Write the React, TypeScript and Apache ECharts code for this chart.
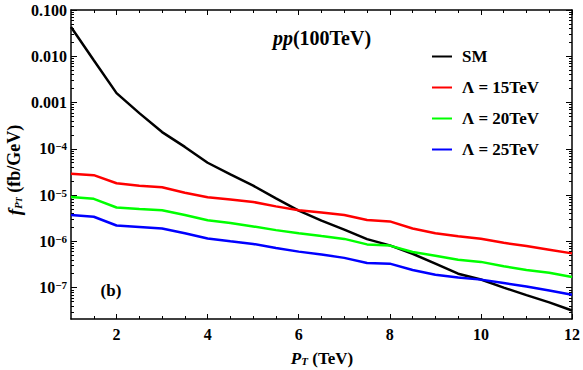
import React, { useEffect, useRef } from "react";
import * as echarts from "echarts";

const pT = [1, 1.5, 2, 2.5, 3, 3.5, 4, 4.5, 5, 5.5, 6, 6.5, 7, 7.5, 8, 8.5, 9, 9.5, 10, 10.5, 11, 11.5, 12];
const smValues = [0.043, 8.2e-3, 1.6e-3, 5.9e-4, 2.3e-4, 1.1e-4, 5.0e-5, 2.8e-5, 1.6e-5, 8.5e-6, 4.6e-6, 2.8e-6, 1.8e-6, 1.12e-6, 8.2e-7, 5.4e-7, 3.3e-7, 2.0e-7, 1.5e-7, 1.0e-7, 6.9e-8, 4.8e-8, 3.2e-8];
const lambda15 = [2.9e-5, 2.7e-5, 1.8e-5, 1.6e-5, 1.48e-5, 1.12e-5, 9.0e-6, 8.0e-6, 7.1e-6, 5.7e-6, 4.7e-6, 4.2e-6, 3.7e-6, 2.9e-6, 2.7e-6, 1.9e-6, 1.5e-6, 1.29e-6, 1.14e-6, 9.3e-7, 7.9e-7, 6.6e-7, 5.5e-7];
const lambda20 = [9.1e-6, 8.3e-6, 5.4e-6, 5.0e-6, 4.7e-6, 3.7e-6, 2.85e-6, 2.5e-6, 2.1e-6, 1.75e-6, 1.5e-6, 1.3e-6, 1.13e-6, 8.6e-7, 8.1e-7, 5.9e-7, 4.9e-7, 4.0e-7, 3.6e-7, 2.9e-7, 2.4e-7, 2.1e-7, 1.7e-7];
const lambda25 = [3.7e-6, 3.4e-6, 2.2e-6, 2.05e-6, 1.9e-6, 1.5e-6, 1.15e-6, 1.0e-6, 8.8e-7, 7.2e-7, 6.0e-7, 5.2e-7, 4.4e-7, 3.4e-7, 3.3e-7, 2.4e-7, 1.9e-7, 1.65e-7, 1.49e-7, 1.26e-7, 1.06e-7, 8.7e-8, 7.0e-8];

const seriesNames = ["SM", "Λ = 15TeV", "Λ = 20TeV", "Λ = 25TeV"];
const seriesColors = ["#000000", "#ff0000", "#00ff00", "#0000ff"];
const seriesValues = [smValues, lambda15, lambda20, lambda25];

const yMajorExponents = [-7, -6, -5, -4, -3, -2, -1];
const xMajorTicks = [2, 4, 6, 8, 10, 12];
const xMinorTicks = [1.5, 2.5, 3, 3.5, 4.5, 5, 5.5, 6.5, 7, 7.5, 8.5, 9, 9.5, 10.5, 11, 11.5];

const X_MIN = 1;
const X_MAX = 12;
const Y_MIN = Math.log10(2.1e-8);
const Y_MAX = -1;

const FONT = "Liberation Serif";

function yMinorTicks(): number[] {
  const out: number[] = [];
  for (let n = -8; n <= -2; n++) {
    for (let k = 2; k <= 9; k++) {
      const v = n + Math.log10(k);
      if (v > Y_MIN && v < Y_MAX) out.push(v);
    }
  }
  return out;
}

function yLabel(v: number): string {
  const e = Math.round(v);
  if (e === -1) return "0.100";
  if (e === -2) return "0.010";
  if (e === -3) return "0.001";
  return `{b|10}{s|\u2212${-e}}`;
}

export default function App() {
  const ref = useRef<HTMLDivElement>(null);
  useEffect(() => {
    if (!ref.current) return;
    const chart = echarts.init(ref.current, undefined, { renderer: "svg" });
    const lineStyle = { color: "#000", width: 1.5 };
    const makeX = (pos: string, ticks: number[], len: number, showLine: boolean, showLabel: boolean) => ({
      type: "value",
      min: X_MIN,
      max: X_MAX,
      position: pos,
      axisLine: { show: showLine, onZero: false, lineStyle },
      axisTick: { show: true, inside: true, length: len, customValues: ticks, lineStyle: { color: "#000", width: 1 } },
      axisLabel: showLabel
        ? { show: true, customValues: ticks, margin: 7, color: "#000", fontFamily: FONT, fontWeight: "bold", fontSize: 16 }
        : { show: false },
      splitLine: { show: false },
    });
    const makeY = (pos: string, ticks: number[], len: number, showLine: boolean, showLabel: boolean) => ({
      type: "value",
      min: Y_MIN,
      max: Y_MAX,
      position: pos,
      axisLine: { show: showLine, onZero: false, lineStyle },
      axisTick: { show: true, inside: true, length: len, customValues: ticks, lineStyle: { color: "#000", width: 1 } },
      axisLabel: showLabel
        ? {
            show: true,
            customValues: ticks,
            margin: 4,
            color: "#000",
            fontFamily: FONT,
            fontWeight: "bold",
            fontSize: 16,
            formatter: yLabel,
            rich: {
              b: { fontFamily: FONT, fontWeight: "bold", fontSize: 16, color: "#000", lineHeight: 16, verticalAlign: "bottom" },
              s: { fontFamily: FONT, fontWeight: "bold", fontSize: 11, color: "#000", lineHeight: 11, padding: [0, 0, 8, 0], verticalAlign: "top" },
            },
          }
        : { show: false },
      splitLine: { show: false },
    });
    const minorY = yMinorTicks();
    const majorY = yMajorExponents;

    chart.setOption({
      animation: false,
      backgroundColor: "#fff",
      grid: { left: 71, right: 10, top: 10, bottom: 51, containLabel: false },
      xAxis: [
        makeX("bottom", xMajorTicks, 5, true, true),
        makeX("bottom", xMinorTicks, 3, false, false),
        makeX("top", xMajorTicks, 5, true, false),
        makeX("top", xMinorTicks, 3, false, false),
      ],
      yAxis: [
        makeY("left", majorY, 6, true, true),
        makeY("left", minorY, 3, false, false),
        makeY("right", majorY, 6, true, false),
        makeY("right", minorY, 3, false, false),
      ],
      legend: {
        data: seriesNames,
        orient: "vertical",
        left: 432,
        top: 48,
        padding: 0,
        icon: "rect",
        itemWidth: 20,
        itemHeight: 2,
        itemGap: 14,
        textStyle: { fontFamily: FONT, fontWeight: "bold", fontSize: 17, color: "#000", lineHeight: 16, padding: [0, 0, 0, 5] },
      },
      series: seriesNames.map((name, i) => ({
        name,
        type: "line",
        xAxisIndex: 0,
        yAxisIndex: 0,
        showSymbol: false,
        symbol: "none",
        color: seriesColors[i],
        lineStyle: { color: seriesColors[i], width: 2.5 },
        data: pT.map((x, j) => [x, Math.log10(seriesValues[i][j])]),
      })),
      graphic: [
        {
          type: "text",
          x: 322,
          y: 38,
          style: {
            text: "{i|pp}{n|(100TeV)}",
            align: "center",
            verticalAlign: "middle",
            rich: {
              i: { fontFamily: FONT, fontWeight: "bold", fontStyle: "italic", fontSize: 20, fill: "#000" },
              n: { fontFamily: FONT, fontWeight: "bold", fontSize: 20, fill: "#000" },
            },
          },
        },
        {
          type: "text",
          x: 111,
          y: 290,
          style: {
            text: "(b)",
            align: "center",
            verticalAlign: "middle",
            fontFamily: FONT,
            fontWeight: "bold",
            fontSize: 17,
            fill: "#000",
          },
        },
        {
          type: "text",
          x: 322,
          y: 358,
          style: {
            text: "{p|P}{t|T}{n| (TeV)}",
            align: "center",
            verticalAlign: "middle",
            rich: {
              p: { fontFamily: FONT, fontWeight: "bold", fontStyle: "italic", fontSize: 17, lineHeight: 17, verticalAlign: "top", fill: "#000" },
              t: { fontFamily: FONT, fontWeight: "bold", fontStyle: "italic", fontSize: 11, lineHeight: 11, padding: [9, 0, 0, 0], verticalAlign: "bottom", fill: "#000" },
              n: { fontFamily: FONT, fontWeight: "bold", fontSize: 17, lineHeight: 17, verticalAlign: "top", fill: "#000" },
            },
          },
        },
        {
          type: "text",
          x: 14,
          y: 170,
          rotation: Math.PI / 2,
          style: {
            text: "{f|f}{p|P}{t|T}{n| (fb/GeV)}",
            align: "center",
            verticalAlign: "middle",
            rich: {
              f: { fontFamily: FONT, fontWeight: "bold", fontStyle: "italic", fontSize: 19, lineHeight: 18, verticalAlign: "top", fill: "#000" },
              p: { fontFamily: FONT, fontWeight: "bold", fontStyle: "italic", fontSize: 11, lineHeight: 11, padding: [9, 0, 0, 0], verticalAlign: "bottom", fill: "#000" },
              t: { fontFamily: FONT, fontWeight: "bold", fontStyle: "italic", fontSize: 8, lineHeight: 8, padding: [14, 0, 0, 0], verticalAlign: "bottom", fill: "#000" },
              n: { fontFamily: FONT, fontWeight: "bold", fontSize: 18, lineHeight: 18, verticalAlign: "top", fill: "#000" },
            },
          },
        },
      ],
    });
    return () => chart.dispose();
  }, []);
  return <div ref={ref} style={{ width: 583, height: 370, position: "absolute", left: 0, top: 0 }} />;
}
